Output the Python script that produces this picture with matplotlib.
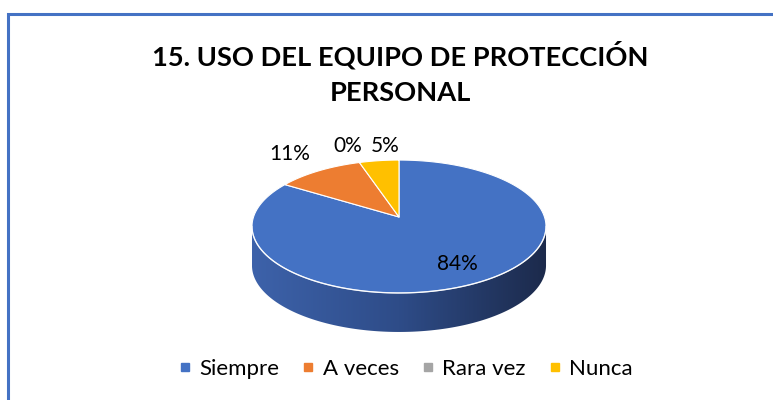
import numpy as np
import matplotlib.pyplot as plt
from matplotlib.patches import Polygon
from matplotlib.colors import LinearSegmentedColormap
from matplotlib.lines import Line2D

# datos
categorias = ['Siempre', 'A veces', 'Rara vez', 'Nunca']
porcentajes = [84, 11, 0, 5]
colores = ['#4472c4', '#ed7d31', '#a5a5a5', '#ffc000']
etiquetas = ['84%', '11%', '0%', '5%']
titulo = '15. USO DEL EQUIPO DE PROTECCIÓN\nPERSONAL'

# geometria del pastel 3D (pixeles)
cx, cy = 399, 217
rx, ry = 145.5, 65.1
persp = 0.143
prof = 39


def proyectar(t, r=1.0):
    # t en grados, r radio relativo
    t = np.radians(t)
    d = 1 + persp * r * np.sin(t)
    return cx + rx * r * np.cos(t) / d, cy - ry * r * np.sin(t) / d


fig = plt.figure(figsize=(7.73, 4.0), dpi=100)
ax = fig.add_axes([0, 0, 1, 1])
ax.set_xlim(0, 773)
ax.set_ylim(400, 0)
ax.axis('off')

# marco
ax.plot([8, 8, 773], [400, 13.5, 13.5], color='#4472c4', lw=2.2, solid_joinstyle='miter')

total = sum(porcentajes)
angs = [90.0]
for v in porcentajes:
    angs.append(angs[-1] - 360.0 * v / total)

# lado visible (borde frontal)
t_izq = 180 + np.degrees(np.arcsin(persp))
t_der = 360 - np.degrees(np.arcsin(persp))
tt = np.linspace(t_izq, t_der, 200)
xs, ys = proyectar(tt)
lado = np.concatenate([np.column_stack([xs, ys]), np.column_stack([xs[::-1], ys[::-1] + prof])])
poly_lado = Polygon(lado, closed=True, facecolor='none', edgecolor='none')
ax.add_patch(poly_lado)
cmap_lado = LinearSegmentedColormap.from_list('lado', ['#3d62aa', '#2e4c88', '#1c2a4b'])
grad = np.linspace(0, 1, 256).reshape(1, -1)
img = ax.imshow(grad, cmap=cmap_lado, extent=(xs.min(), xs.max(), ys.max() + prof + 2, ys.min() - 2),
                aspect='auto', zorder=1, interpolation='bilinear')
img.set_clip_path(poly_lado)

# cara superior
for i, v in enumerate(porcentajes):
    if v == 0:
        continue
    t = np.linspace(angs[i], angs[i + 1], 200)
    px, py = proyectar(t)
    pts = np.column_stack([np.concatenate([[cx], px]), np.concatenate([[cy], py])])
    ax.add_patch(Polygon(pts, closed=True, facecolor=colores[i], edgecolor='white',
                         lw=0.8, zorder=2, joinstyle='round'))

# brillo del borde
ax.plot(xs, ys, color='white', lw=1.0, alpha=0.7, zorder=3)

# etiquetas de datos
pos_etq = [(0.75, 0), (1.42, 0), (1.35, 0), (1.3, 4)]
for i, (r, dt) in enumerate(pos_etq):
    tm = (angs[i] + angs[i + 1]) / 2 - dt
    lx, ly = proyectar(tm, r)
    ax.text(lx, ly, etiquetas[i], ha='center', va='center', fontsize=15,
            family='Lato', color='#000000', zorder=4)

# titulo
ax.text(400, 73, titulo, ha='center', va='center', fontsize=19.6, fontweight='bold',
        family='Lato', linespacing=1.55, color='#000000')

# leyenda
manejadores = [Line2D([], [], marker='s', ls='none', markersize=5.5, color=c) for c in colores]
ax.legend(manejadores, categorias, loc='center', bbox_to_anchor=(405 / 773, 1 - 369 / 400),
          ncol=4, frameon=False, prop={'family': 'Lato', 'size': 16},
          handletextpad=0.3, columnspacing=0.95, handlelength=0.7)

plt.savefig('out.png', dpi=100)
